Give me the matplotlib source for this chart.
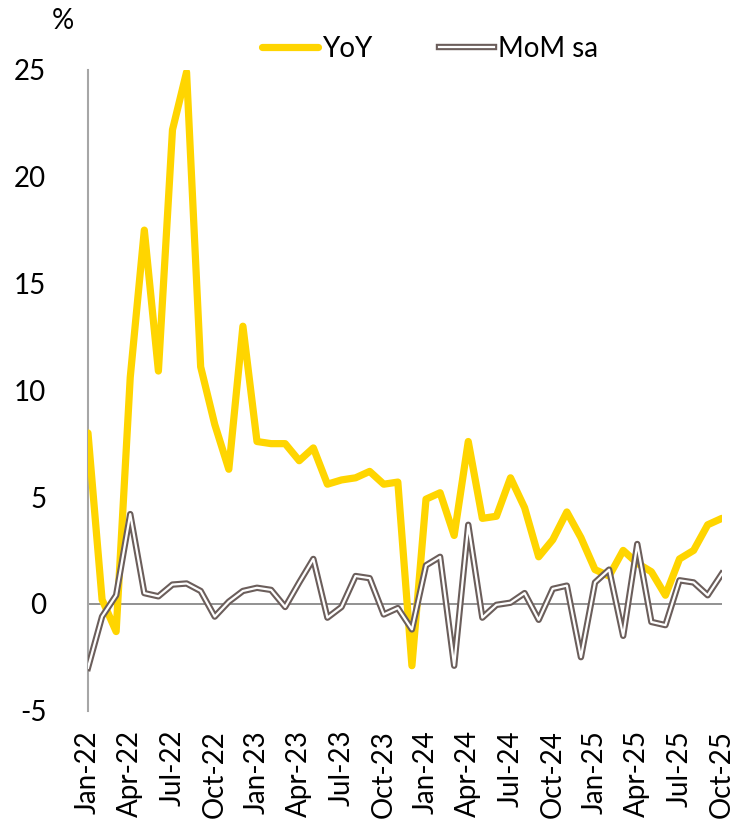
import numpy as np
import matplotlib.pyplot as plt
import matplotlib.patheffects as pe

plt.rcParams['font.family'] = ['Lato', 'DejaVu Sans']

months = ['Jan', 'Feb', 'Mar', 'Apr', 'May', 'Jun', 'Jul', 'Aug', 'Sep', 'Oct', 'Nov', 'Dec']
dates = [f'{m}-{y}' for y in ['22', '23', '24', '25'] for m in months][:46]

yoy = [8.0, 0.2, -1.3, 10.6, 17.5, 10.9, 22.2, 24.9, 11.1, 8.4, 6.3, 13.0,
       7.6, 7.5, 7.5, 6.7, 7.3, 5.6, 5.8, 5.9, 6.2, 5.6, 5.7, -2.9,
       4.9, 5.2, 3.2, 7.6, 4.0, 4.1, 5.9, 4.5, 2.2, 3.0, 4.3, 3.1,
       1.6, 1.3, 2.5, 1.9, 1.5, 0.4, 2.1, 2.5, 3.7, 4.0]
mom = [-3.0, -0.6, 0.4, 4.2, 0.5, 0.35, 0.9, 0.95, 0.6, -0.6, 0.1, 0.6,
       0.75, 0.65, -0.15, 1.0, 2.1, -0.65, -0.15, 1.3, 1.2, -0.5, -0.2, -1.2,
       1.8, 2.2, -2.9, 3.7, -0.65, -0.05, 0.05, 0.5, -0.75, 0.7, 0.85, -2.5,
       1.0, 1.6, -1.5, 2.8, -0.85, -1.0, 1.1, 1.0, 0.4, 1.4]
yticks = [-5, 0, 5, 10, 15, 20, 25]

x = np.arange(len(dates))

fig = plt.figure(figsize=(7.35, 8.33), dpi=100)
ax = fig.add_axes([0.1197, 0.147, 0.982 - 0.1197, 0.916 - 0.147])

ax.axhline(0, color='#7f7f7f', lw=1.2, zorder=1)
ax.plot(x, yoy, color='#FFD500', lw=5.2, solid_joinstyle='round', solid_capstyle='round',
        label='YoY', zorder=3)
ax.plot(x, mom, color='white', lw=1.6, zorder=4, label='MoM sa',
        path_effects=[pe.Stroke(linewidth=4.6, foreground='#6B5E5B'), pe.Normal()])

ax.set_xlim(0, 45)
ax.set_ylim(-5, 25)
ax.set_yticks(yticks)
ax.set_yticklabels([str(v) for v in yticks])
ax.set_xticks(x[::3])
ax.set_xticklabels(dates[::3], rotation=90)
ax.tick_params(axis='both', length=0, labelsize=20)
ax.tick_params(axis='y', pad=30)
ax.tick_params(axis='x', pad=14)

for s in ['top', 'right', 'bottom']:
    ax.spines[s].set_visible(False)
ax.spines['left'].set_color('#a6a6a6')
ax.spines['left'].set_linewidth(1.5)

fig.text(0.085, 0.975, '%', fontsize=20, ha='center', va='center')
leg = ax.legend(loc='lower center', bbox_to_anchor=(0.54, 0.995), ncol=2, frameon=False,
                fontsize=20, handlelength=2.0, handletextpad=0.15, columnspacing=2.4,
                borderaxespad=0.0)

fig.savefig('out.png', dpi=100)
